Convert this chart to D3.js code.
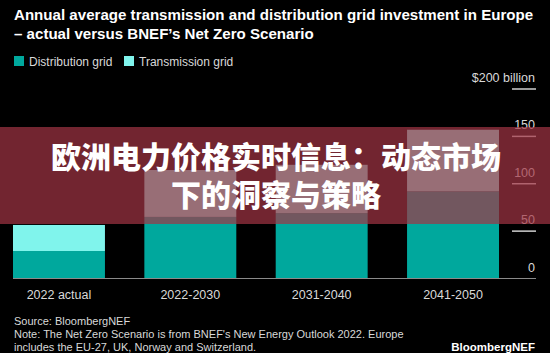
<!DOCTYPE html>
<html>
<head>
<meta charset="utf-8">
<script src="https://cdn.jsdelivr.net/npm/d3@7"></script>
<style>
  html, body { margin: 0; padding: 0; background: #000; }
  svg { display: block; }
</style>
</head>
<body>
<div class="plot-container"></div>
<script>
// chart data
const categories = ["2022 actual", "2022-2030", "2031-2040", "2041-2050"];
const distribution = [29, 65, 69, 92];
const transmission = [27.5, 49.5, 51, 65];
const yTicks = [0, 50, 100, 150, 200];
const seriesNames = ["Distribution grid", "Transmission grid"];

const DIST_COLOR = "#00a89d";
const TRANS_COLOR = "#80f4ec";
const TEXT_COLOR = "#d9d9d9";
const FONT = "'Liberation Sans', Arial, sans-serif";

const width = 550, height = 353;

const svg = d3.select("div.plot-container").append("svg")
  .attr("width", width)
  .attr("height", height)
  .style("font-family", FONT);

svg.append("rect").attr("width", width).attr("height", height).attr("fill", "#000");

// title
const title = svg.append("g").attr("fill", "#fff").style("font-weight", "bold").style("font-size", "15.1px");
title.append("text").attr("x", 14).attr("y", 20).text("Annual average transmission and distribution grid investment in Europe");
title.append("text").attr("x", 14).attr("y", 39).text("\u2013 actual versus BNEF\u2019s Net Zero Scenario");

// legend
const legend = svg.append("g").style("font-size", "12px");
const legendX = [14, 124];
seriesNames.forEach((name, i) => {
  legend.append("rect")
    .attr("x", legendX[i]).attr("y", 56)
    .attr("width", 10).attr("height", 10)
    .attr("fill", i === 0 ? DIST_COLOR : TRANS_COLOR);
  legend.append("text")
    .attr("x", legendX[i] + 15).attr("y", 65.5)
    .attr("fill", TEXT_COLOR)
    .text(name);
});

// scales
const x = d3.scaleBand().domain(categories).range([13, 499]).paddingInner(0.3);
const y = d3.scaleLinear().domain([0, 200]).range([278.5, 89]);

const stacked = d3.stack().keys(["dist", "trans"])(
  categories.map((c, i) => ({ cat: c, dist: distribution[i], trans: transmission[i] }))
);

svg.append("g")
  .selectAll("g")
  .data(stacked)
  .enter()
  .append("g")
  .attr("fill", d => d.key === "dist" ? DIST_COLOR : TRANS_COLOR)
  .selectAll("rect")
  .data(d => d)
  .enter()
  .append("rect")
  .attr("x", d => x(d.data.cat))
  .attr("width", x.bandwidth())
  .attr("y", d => y(d[1]))
  .attr("height", d => y(d[0]) - y(d[1]));

// y axis on the right, labels sit above short tick lines
const axis = svg.append("g").style("font-size", "12.5px");
yTicks.forEach(v => {
  axis.append("text")
    .attr("x", 535)
    .attr("y", y(v) - 7)
    .attr("text-anchor", "end")
    .attr("fill", TEXT_COLOR)
    .text(v === 200 ? "$200 billion" : v);
  if (v > 0) {
    axis.append("line")
      .attr("x1", 512).attr("x2", 536)
      .attr("y1", y(v)).attr("y2", y(v))
      .attr("stroke", "#cfcfcf")
      .attr("stroke-width", 1.5);
  }
});
axis.append("line")
  .attr("x1", 13).attr("x2", 536)
  .attr("y1", y(0)).attr("y2", y(0))
  .attr("stroke", "#8a8a8a")
  .attr("stroke-width", 1);

// category labels
svg.append("g")
  .style("font-size", "12.5px")
  .selectAll("text")
  .data(categories)
  .enter()
  .append("text")
  .attr("x", d => x(d) + x.bandwidth() / 2)
  .attr("y", 299)
  .attr("text-anchor", "middle")
  .attr("fill", TEXT_COLOR)
  .text(d => d);

// footer
const foot = svg.append("g").style("font-size", "11px").attr("fill", TEXT_COLOR);
foot.append("text").attr("x", 14).attr("y", 325).text("Source: BloombergNEF");
foot.append("text").attr("x", 14).attr("y", 338).text("Note: The Net Zero Scenario is from BNEF's New Energy Outlook 2022. Europe");
foot.append("text").attr("x", 14).attr("y", 351).text("includes the EU-27, UK, Norway and Switzerland.");

const logo = svg.append("text")
  .attr("x", 535).attr("y", 351)
  .attr("text-anchor", "end")
  .attr("fill", "#fff")
  .style("font-size", "11.5px");
logo.append("tspan").style("font-weight", "600").text("Bloomberg");
logo.append("tspan").style("font-weight", "bold").text("NEF");

// red banner overlay
svg.append("rect")
  .attr("x", 0).attr("y", 127)
  .attr("width", width).attr("height", 97)
  .attr("fill", "rgb(163,53,69)")
  .attr("opacity", 0.7);

const banner = svg.append("g")
  .attr("fill", "#fff")
  .attr("text-anchor", "middle")
  .style("font-family", "'Noto Sans CJK SC', sans-serif")
  .style("font-weight", "900")
  .style("font-size", "30px");
banner.append("text").attr("x", 276).attr("y", 168).text("欧洲电力价格实时信息：动态市场");
banner.append("text").attr("x", 276).attr("y", 206).text("下的洞察与策略");
</script>
</body>
</html>
